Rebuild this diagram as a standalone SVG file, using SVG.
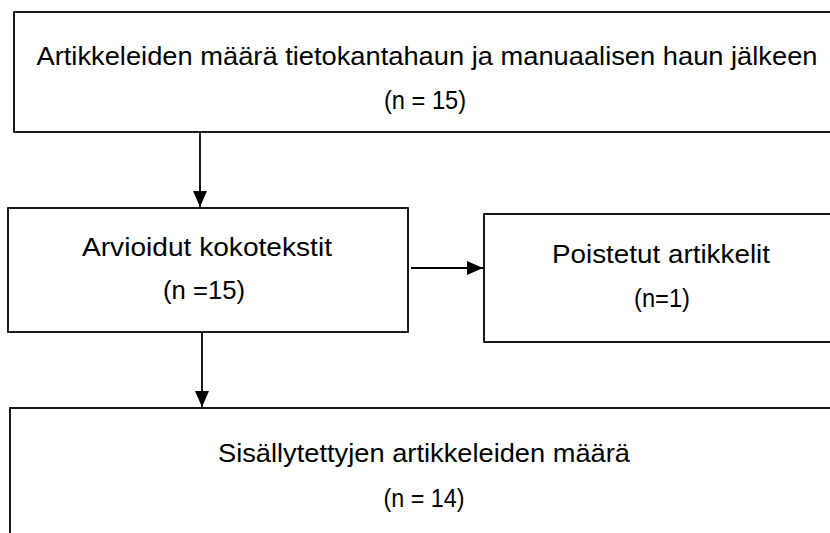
<svg xmlns="http://www.w3.org/2000/svg" width="830" height="533" viewBox="0 0 830 533">
<defs>
<style>
.box{fill:#fff;stroke:#000;stroke-width:1.8}
.t{font-family:"Liberation Sans",Arial,sans-serif;font-size:25px;fill:#000;text-anchor:middle}
.c{stroke:#000;stroke-width:1.8;fill:none}
</style>
<marker id="ah" viewBox="0 0 16 14" refX="16" refY="7" markerWidth="16" markerHeight="14" markerUnits="userSpaceOnUse" orient="auto">
<path d="M0,0 L16,7 L0,14 z" fill="#000"/>
</marker>
</defs>
<rect width="830" height="533" fill="#fff"/>
<g id="n1">
<rect class="box" x="14" y="12" width="830" height="120"/>
<text class="t" x="427" y="65" textLength="781" lengthAdjust="spacingAndGlyphs">Artikkeleiden määrä tietokantahaun ja manuaalisen haun jälkeen</text>
<text class="t" x="425" y="109" textLength="82" lengthAdjust="spacingAndGlyphs">(n = 15)</text>
</g>
<g id="n2">
<rect class="box" x="8" y="208" width="400" height="124"/>
<text class="t" x="207" y="256" textLength="250" lengthAdjust="spacingAndGlyphs">Arvioidut kokotekstit</text>
<text class="t" x="204" y="299" textLength="82" lengthAdjust="spacingAndGlyphs">(n =15)</text>
</g>
<g id="n3">
<rect class="box" x="484" y="214" width="360" height="128"/>
<text class="t" x="661" y="263" textLength="218" lengthAdjust="spacingAndGlyphs">Poistetut artikkelit</text>
<text class="t" x="662" y="307" textLength="56" lengthAdjust="spacingAndGlyphs">(n=1)</text>
</g>
<g id="n4">
<rect class="box" x="10" y="408" width="840" height="140"/>
<text class="t" x="424" y="462" textLength="412" lengthAdjust="spacingAndGlyphs">Sisällytettyjen artikkeleiden määrä</text>
<text class="t" x="424" y="507" textLength="81" lengthAdjust="spacingAndGlyphs">(n = 14)</text>
</g>
<g id="connectors">
<path class="c" d="M200,132 V207" marker-end="url(#ah)"/>
<path class="c" d="M411,268 H483" marker-end="url(#ah)"/>
<path class="c" d="M202,332 V407" marker-end="url(#ah)"/>
</g>
</svg>
